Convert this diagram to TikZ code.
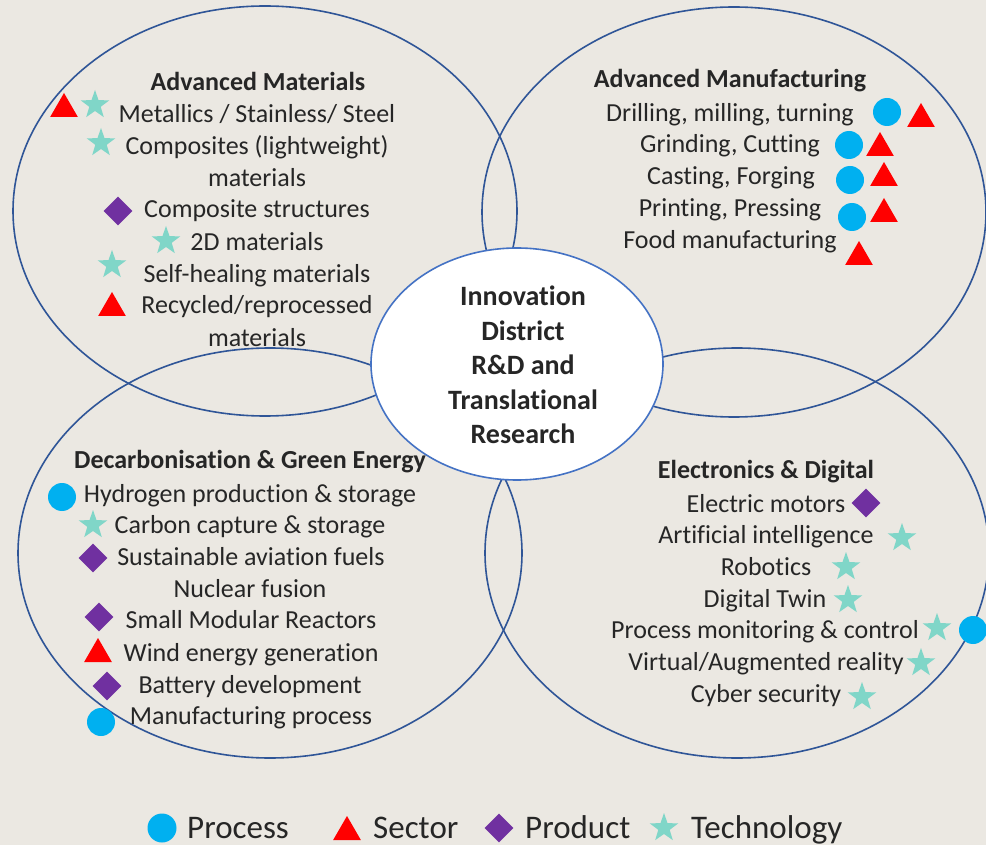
\documentclass[tikz,border=0pt]{standalone}
\usepackage{fontspec}
\setmainfont{Carlito}[Ligatures={NoCommon}]
\usetikzlibrary{positioning}
\usetikzlibrary{shapes.geometric}
\definecolor{paper}{RGB}{235,232,226}
\definecolor{ringblue}{RGB}{47,85,151}
\definecolor{hubblue}{RGB}{68,114,196}
\definecolor{processblue}{RGB}{0,176,240}
\definecolor{sectorred}{RGB}{255,0,0}
\definecolor{productpurple}{RGB}{112,48,160}
\definecolor{techteal}{RGB}{128,214,200}

\begin{document}
\begin{tikzpicture}[x=1pt, y=-1pt,
                ringnode/.style={ellipse, draw=ringblue, line width=1.6pt, minimum width=504pt, minimum height=410pt, inner sep=0pt},
                hubnode/.style={ellipse, draw=hubblue, fill=white, line width=1.6pt, minimum width=292pt, minimum height=232pt, inner sep=0pt},
                itemnode/.style={anchor=base, inner sep=0pt, text=black!85, font=\fontsize{26}{32}\selectfont},
                titlenode/.style={itemnode, font=\fontsize{26}{32}\selectfont\bfseries},
                legendnode/.style={anchor=base west, inner sep=0pt, text=black!85, font=\fontsize{33}{40}\selectfont},
                bluecirclenode/.style={circle, fill=processblue, minimum size=28pt, inner sep=0pt},
                redtrianglenode/.style={regular polygon, regular polygon sides=3, fill=sectorred, minimum size=32pt, inner sep=0pt},
                purplediamondnode/.style={diamond, fill=productpurple, minimum size=29pt, inner sep=0pt},
                tealstarnode/.style={star, star points=5, star point ratio=2.5, fill=techteal, minimum size=30pt, inner sep=0pt},
                ]
                \useasboundingbox (0,0) rectangle (986,845);
                \fill[paper] (0,0) rectangle (986,845);

                % the four fields
                \node[ringnode] (materials) at (265,211) {};
                \node[ringnode] (manufacturing) at (734,212) {};
                \node[ringnode] (decarbon) at (270,553) {};
                \node[ringnode] (electronics) at (737,553) {};

                % hub
                \node[hubnode] (hub) at (517,364) {};
                \node[align=center, inner sep=0pt, text=black!85, font=\fontsize{28}{34.5}\selectfont\bfseries] (hubtext) at (523,365) {Innovation\\District\\R\&D and\\Translational\\Research};

                % advanced materials
                \node[titlenode] (amtitle) at (258,91) {Advanced Materials};
                \node[itemnode] (ammetal) at (257,123) {Metallics / Stainless/ Steel};
                \node[itemnode] (amcomp) at (257,155) {Composites (lightweight)};
                \node[itemnode] (amcompb) at (257,187) {materials};
                \node[itemnode] (amstruct) at (257,218) {Composite structures};
                \node[itemnode] (amtwod) at (257,251) {2D materials};
                \node[itemnode] (amheal) at (257,283) {Self-healing materials};
                \node[itemnode] (amrecyc) at (257,314) {Recycled/reprocessed};
                \node[itemnode] (amrecycb) at (257,346) {materials};
                \node[redtrianglenode] (amsecta) at (64,109) {};
                \node[tealstarnode] (amtecha) at (95,105) {};
                \node[tealstarnode] (amtechb) at (101,143) {};
                \node[purplediamondnode] (amproda) at (118,211) {};
                \node[tealstarnode] (amtechc) at (166,241) {};
                \node[tealstarnode] (amtechd) at (112,265) {};
                \node[redtrianglenode] (amsectb) at (112,308) {};

                % advanced manufacturing
                \node[titlenode] (mftitle) at (730,88) {Advanced Manufacturing};
                \node[itemnode] (mfdrill) at (730,122) {Drilling, milling, turning};
                \node[itemnode] (mfgrind) at (730,153) {Grinding, Cutting};
                \node[itemnode] (mfcast) at (731,185) {Casting, Forging};
                \node[itemnode] (mfprint) at (730,217) {Printing, Pressing};
                \node[itemnode] (mffood) at (730,249) {Food manufacturing};
                \node[bluecirclenode] (mfproca) at (887,112) {};
                \node[redtrianglenode] (mfsecta) at (921,119) {};
                \node[bluecirclenode] (mfprocb) at (849,145) {};
                \node[redtrianglenode] (mfsectb) at (880,148) {};
                \node[bluecirclenode] (mfprocc) at (850,180) {};
                \node[redtrianglenode] (mfsectc) at (884,178) {};
                \node[bluecirclenode] (mfprocd) at (852,217) {};
                \node[redtrianglenode] (mfsectd) at (884,214) {};
                \node[redtrianglenode] (mfsecte) at (859,257) {};

                % decarbonisation
                \node[titlenode] (detitle) at (250,468) {Decarbonisation \& Green Energy};
                \node[itemnode] (dehydro) at (250,502) {Hydrogen production \& storage};
                \node[itemnode] (decapture) at (250,533) {Carbon capture \& storage};
                \node[itemnode] (defuel) at (251,565) {Sustainable aviation fuels};
                \node[itemnode] (defusion) at (250,597) {Nuclear fusion};
                \node[itemnode] (desmr) at (251,628) {Small Modular Reactors};
                \node[itemnode] (dewind) at (251,661) {Wind energy generation};
                \node[itemnode] (debatt) at (250,693) {Battery development};
                \node[itemnode] (demanu) at (251,724) {Manufacturing process};
                \node[bluecirclenode] (deproca) at (62,497) {};
                \node[tealstarnode] (detecha) at (93,525) {};
                \node[purplediamondnode] (deproda) at (93,558) {};
                \node[purplediamondnode] (deprodb) at (99,617) {};
                \node[redtrianglenode] (desecta) at (98,654) {};
                \node[purplediamondnode] (deprodc) at (107,686) {};
                \node[bluecirclenode] (deprocb) at (101,722) {};

                % electronics
                \node[titlenode] (edtitle) at (766,478) {Electronics \& Digital};
                \node[itemnode] (edmotor) at (766,512) {Electric motors};
                \node[itemnode] (edai) at (766,543) {Artificial intelligence};
                \node[itemnode] (edrobot) at (766,575) {Robotics};
                \node[itemnode] (edtwin) at (765,607) {Digital Twin};
                \node[itemnode] (edmonitor) at (765,638) {Process monitoring \& control};
                \node[itemnode] (edvr) at (766,670) {Virtual/Augmented reality};
                \node[itemnode] (edcyber) at (766,702) {Cyber security};
                \node[purplediamondnode] (edproda) at (866,503) {};
                \node[tealstarnode] (edtecha) at (902,538) {};
                \node[tealstarnode] (edtechb) at (846,567) {};
                \node[tealstarnode] (edtechc) at (848,600) {};
                \node[tealstarnode] (edtechd) at (937,628) {};
                \node[bluecirclenode] (edproca) at (973,630) {};
                \node[tealstarnode] (edteche) at (921,663) {};
                \node[tealstarnode] (edtechf) at (862,697) {};

                % legend
                \node[bluecirclenode, minimum size=29pt] (legproc) at (162,828) {};
                \node[legendnode] (legproctext) at (187,838) {Process};
                \node[redtrianglenode] (legsect) at (347,832) {};
                \node[legendnode] (legsecttext) at (373,838) {Sector};
                \node[purplediamondnode] (legprod) at (499,828) {};
                \node[legendnode] (legprodtext) at (525,838) {Product};
                \node[tealstarnode] (legtech) at (664,828) {};
                \node[legendnode] (legtechtext) at (691,838) {Technology};
            \end{tikzpicture}
\end{document}
